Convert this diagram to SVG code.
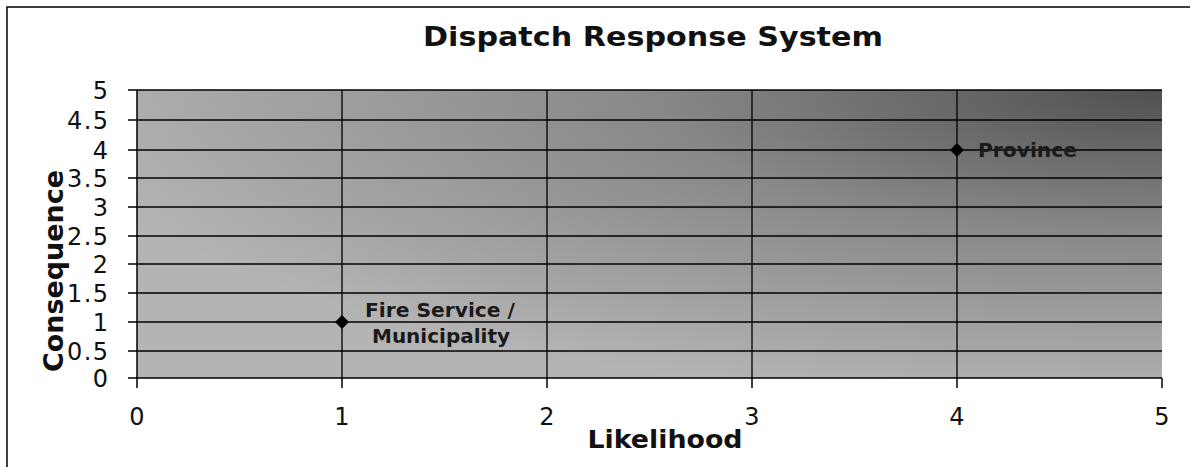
<svg xmlns="http://www.w3.org/2000/svg" width="1194" height="467" viewBox="0 0 1194 467">
  <defs>
    <radialGradient id="plotBg" cx="1" cy="0" r="1.1" gradientUnits="objectBoundingBox">
      <stop offset="0" stop-color="#505050"/>
      <stop offset="0.45" stop-color="#888888"/>
      <stop offset="1" stop-color="#b4b4b4"/>
    </radialGradient>
  </defs>
  <style>
    .grid { stroke: #000; stroke-width: 1.3; fill: none; }
    .axis { stroke: #000; stroke-width: 1.5; fill: none; }
    .num { font-family: "DejaVu Sans", Verdana, sans-serif; font-size: 24px; fill: #111; }
    .ynum { text-anchor: end; }
    .xnum { text-anchor: middle; }
    .title { font-family: "DejaVu Sans", Verdana, sans-serif; font-weight: bold; fill: #111; }
    .lbl { font-family: "DejaVu Sans", Verdana, sans-serif; font-weight: bold; font-size: 19px; fill: #1a1a1a; }
    .pt { fill: #000; }
  </style>
  <rect width="1194" height="467" fill="#fff"/>
  <path d="M1190,7 H7 V467" stroke="#000" stroke-width="1.5" fill="none"/>

  <text class="title" x="653" y="46" font-size="27" text-anchor="middle" textLength="460" lengthAdjust="spacingAndGlyphs">Dispatch Response System</text>

  <g id="plot-area">
    <rect x="137" y="90" width="1025" height="288" fill="url(#plotBg)"/>
  </g>

  <g id="gridlines">
    <path class="grid" d="M137,90 H1162 M137,120 H1162 M137,150 H1162 M137,178 H1162 M137,207 H1162 M137,236 H1162 M137,264 H1162 M137,293 H1162 M137,322 H1162 M137,351 H1162"/>
    <path class="grid" d="M342,90 V378 M547,90 V378 M752,90 V378 M957,90 V378"/>
  </g>

  <g id="axes">
    <path class="axis" d="M137,90 V388 M128,378 H1162"/>
    <path class="axis" d="M128,90 H137 M128,120 H137 M128,150 H137 M128,178 H137 M128,207 H137 M128,236 H137 M128,264 H137 M128,293 H137 M128,322 H137 M128,351 H137"/>
    <path class="axis" d="M342,378 V388 M547,378 V388 M752,378 V388 M957,378 V388 M1162,378 V388"/>
  </g>

  <g id="y-labels">
    <text class="num ynum" x="108" y="99">5</text>
    <text class="num ynum" x="108" y="129" textLength="41" lengthAdjust="spacing">4.5</text>
    <text class="num ynum" x="108" y="159">4</text>
    <text class="num ynum" x="108" y="187" textLength="41" lengthAdjust="spacing">3.5</text>
    <text class="num ynum" x="108" y="216">3</text>
    <text class="num ynum" x="108" y="245" textLength="41" lengthAdjust="spacing">2.5</text>
    <text class="num ynum" x="108" y="273">2</text>
    <text class="num ynum" x="108" y="302" textLength="41" lengthAdjust="spacing">1.5</text>
    <text class="num ynum" x="108" y="331">1</text>
    <text class="num ynum" x="108" y="360" textLength="41" lengthAdjust="spacing">0.5</text>
    <text class="num ynum" x="108" y="387">0</text>
  </g>

  <g id="x-labels">
    <text class="num xnum" x="137" y="425">0</text>
    <text class="num xnum" x="342" y="425">1</text>
    <text class="num xnum" x="547" y="425">2</text>
    <text class="num xnum" x="752" y="425">3</text>
    <text class="num xnum" x="957" y="425">4</text>
    <text class="num xnum" x="1162" y="425">5</text>
  </g>

  <text class="title" x="665" y="448" font-size="25" text-anchor="middle" textLength="155" lengthAdjust="spacingAndGlyphs">Likelihood</text>
  <text class="title" transform="translate(63,271) rotate(-90)" x="0" y="0" font-size="26" text-anchor="middle" textLength="202" lengthAdjust="spacingAndGlyphs">Consequence</text>

  <g id="point-fire-service">
    <path class="pt" d="M342,315 L349,322 L342,329 L335,322 Z"/>
    <text class="lbl" x="440" y="317" text-anchor="middle" textLength="150" lengthAdjust="spacingAndGlyphs">Fire Service /</text>
    <text class="lbl" x="441" y="343" text-anchor="middle" textLength="138" lengthAdjust="spacingAndGlyphs">Municipality</text>
  </g>

  <g id="point-province">
    <path class="pt" d="M957,143 L964,150 L957,157 L950,150 Z"/>
    <text class="lbl" x="978" y="157" textLength="99" lengthAdjust="spacingAndGlyphs">Province</text>
  </g>

  <g id="connectors"/>
</svg>
